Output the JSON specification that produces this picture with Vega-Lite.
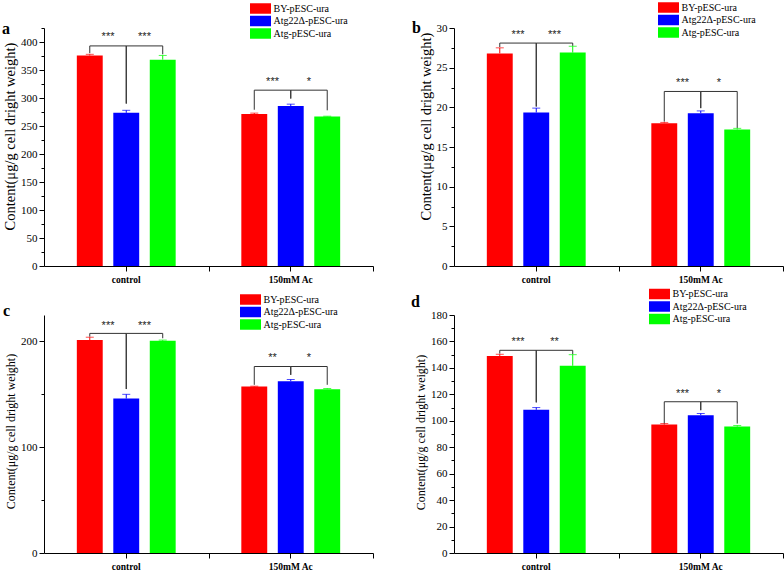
{
  "$schema": "https://vega.github.io/schema/vega-lite/v6.json",
  "background": "white",
  "padding": {"left": 2, "top": 2, "right": 0, "bottom": 0},
  "datasets": {
    "bars": [
      {"panel": "a", "cond": "control", "strain": "BY-pESC-ura", "value": 376, "upper": 378},
      {"panel": "a", "cond": "control", "strain": "Atg22Δ-pESC-ura", "value": 273.5, "upper": 278},
      {"panel": "a", "cond": "control", "strain": "Atg-pESC-ura", "value": 368.5, "upper": 376},
      {"panel": "a", "cond": "150mM Ac", "strain": "BY-pESC-ura", "value": 271.5, "upper": 273},
      {"panel": "a", "cond": "150mM Ac", "strain": "Atg22Δ-pESC-ura", "value": 285.5, "upper": 289},
      {"panel": "a", "cond": "150mM Ac", "strain": "Atg-pESC-ura", "value": 267, "upper": 267.5},
      {"panel": "b", "cond": "control", "strain": "BY-pESC-ura", "value": 26.8, "upper": 27.5},
      {"panel": "b", "cond": "control", "strain": "Atg22Δ-pESC-ura", "value": 19.35, "upper": 19.9},
      {"panel": "b", "cond": "control", "strain": "Atg-pESC-ura", "value": 26.9, "upper": 27.7},
      {"panel": "b", "cond": "150mM Ac", "strain": "BY-pESC-ura", "value": 18.0, "upper": 18.1},
      {"panel": "b", "cond": "150mM Ac", "strain": "Atg22Δ-pESC-ura", "value": 19.25, "upper": 19.55},
      {"panel": "b", "cond": "150mM Ac", "strain": "Atg-pESC-ura", "value": 17.2, "upper": 17.35},
      {"panel": "c", "cond": "control", "strain": "BY-pESC-ura", "value": 201.3, "upper": 204},
      {"panel": "c", "cond": "control", "strain": "Atg22Δ-pESC-ura", "value": 146, "upper": 150},
      {"panel": "c", "cond": "control", "strain": "Atg-pESC-ura", "value": 200.6, "upper": 201.3},
      {"panel": "c", "cond": "150mM Ac", "strain": "BY-pESC-ura", "value": 157.3, "upper": 157.7},
      {"panel": "c", "cond": "150mM Ac", "strain": "Atg22Δ-pESC-ura", "value": 162.4, "upper": 164},
      {"panel": "c", "cond": "150mM Ac", "strain": "Atg-pESC-ura", "value": 154.8, "upper": 155.5},
      {"panel": "d", "cond": "control", "strain": "BY-pESC-ura", "value": 149, "upper": 150.3},
      {"panel": "d", "cond": "control", "strain": "Atg22Δ-pESC-ura", "value": 108.3, "upper": 110},
      {"panel": "d", "cond": "control", "strain": "Atg-pESC-ura", "value": 141.6, "upper": 150},
      {"panel": "d", "cond": "150mM Ac", "strain": "BY-pESC-ura", "value": 97.1, "upper": 97.9},
      {"panel": "d", "cond": "150mM Ac", "strain": "Atg22Δ-pESC-ura", "value": 104.2, "upper": 105.5},
      {"panel": "d", "cond": "150mM Ac", "strain": "Atg-pESC-ura", "value": 95.6, "upper": 96.4}
    ],
    "brackets": [
      {"panel": "a", "cond": "control", "pair": "L", "seq": 1, "strain": "BY-pESC-ura", "y": 380},
      {"panel": "a", "cond": "control", "pair": "L", "seq": 2, "strain": "BY-pESC-ura", "y": 393},
      {"panel": "a", "cond": "control", "pair": "L", "seq": 3, "strain": "Atg22Δ-pESC-ura", "y": 393},
      {"panel": "a", "cond": "control", "pair": "L", "seq": 4, "strain": "Atg22Δ-pESC-ura", "y": 290},
      {"panel": "a", "cond": "control", "pair": "R", "seq": 1, "strain": "Atg22Δ-pESC-ura", "y": 290},
      {"panel": "a", "cond": "control", "pair": "R", "seq": 2, "strain": "Atg22Δ-pESC-ura", "y": 393},
      {"panel": "a", "cond": "control", "pair": "R", "seq": 3, "strain": "Atg-pESC-ura", "y": 393},
      {"panel": "a", "cond": "control", "pair": "R", "seq": 4, "strain": "Atg-pESC-ura", "y": 378},
      {"panel": "a", "cond": "150mM Ac", "pair": "L", "seq": 1, "strain": "BY-pESC-ura", "y": 279},
      {"panel": "a", "cond": "150mM Ac", "pair": "L", "seq": 2, "strain": "BY-pESC-ura", "y": 314},
      {"panel": "a", "cond": "150mM Ac", "pair": "L", "seq": 3, "strain": "Atg22Δ-pESC-ura", "y": 314},
      {"panel": "a", "cond": "150mM Ac", "pair": "L", "seq": 4, "strain": "Atg22Δ-pESC-ura", "y": 299},
      {"panel": "a", "cond": "150mM Ac", "pair": "R", "seq": 1, "strain": "Atg22Δ-pESC-ura", "y": 299},
      {"panel": "a", "cond": "150mM Ac", "pair": "R", "seq": 2, "strain": "Atg22Δ-pESC-ura", "y": 314},
      {"panel": "a", "cond": "150mM Ac", "pair": "R", "seq": 3, "strain": "Atg-pESC-ura", "y": 314},
      {"panel": "a", "cond": "150mM Ac", "pair": "R", "seq": 4, "strain": "Atg-pESC-ura", "y": 278},
      {"panel": "b", "cond": "control", "pair": "L", "seq": 1, "strain": "BY-pESC-ura", "y": 27.6},
      {"panel": "b", "cond": "control", "pair": "L", "seq": 2, "strain": "BY-pESC-ura", "y": 28.1},
      {"panel": "b", "cond": "control", "pair": "L", "seq": 3, "strain": "Atg22Δ-pESC-ura", "y": 28.1},
      {"panel": "b", "cond": "control", "pair": "L", "seq": 4, "strain": "Atg22Δ-pESC-ura", "y": 20.1},
      {"panel": "b", "cond": "control", "pair": "R", "seq": 1, "strain": "Atg22Δ-pESC-ura", "y": 20.1},
      {"panel": "b", "cond": "control", "pair": "R", "seq": 2, "strain": "Atg22Δ-pESC-ura", "y": 28.1},
      {"panel": "b", "cond": "control", "pair": "R", "seq": 3, "strain": "Atg-pESC-ura", "y": 28.1},
      {"panel": "b", "cond": "control", "pair": "R", "seq": 4, "strain": "Atg-pESC-ura", "y": 27.75},
      {"panel": "b", "cond": "150mM Ac", "pair": "L", "seq": 1, "strain": "BY-pESC-ura", "y": 18.2},
      {"panel": "b", "cond": "150mM Ac", "pair": "L", "seq": 2, "strain": "BY-pESC-ura", "y": 22.0},
      {"panel": "b", "cond": "150mM Ac", "pair": "L", "seq": 3, "strain": "Atg22Δ-pESC-ura", "y": 22.0},
      {"panel": "b", "cond": "150mM Ac", "pair": "L", "seq": 4, "strain": "Atg22Δ-pESC-ura", "y": 19.9},
      {"panel": "b", "cond": "150mM Ac", "pair": "R", "seq": 1, "strain": "Atg22Δ-pESC-ura", "y": 19.9},
      {"panel": "b", "cond": "150mM Ac", "pair": "R", "seq": 2, "strain": "Atg22Δ-pESC-ura", "y": 22.0},
      {"panel": "b", "cond": "150mM Ac", "pair": "R", "seq": 3, "strain": "Atg-pESC-ura", "y": 22.0},
      {"panel": "b", "cond": "150mM Ac", "pair": "R", "seq": 4, "strain": "Atg-pESC-ura", "y": 17.4},
      {"panel": "c", "cond": "control", "pair": "L", "seq": 1, "strain": "BY-pESC-ura", "y": 204.5},
      {"panel": "c", "cond": "control", "pair": "L", "seq": 2, "strain": "BY-pESC-ura", "y": 207.6},
      {"panel": "c", "cond": "control", "pair": "L", "seq": 3, "strain": "Atg22Δ-pESC-ura", "y": 207.6},
      {"panel": "c", "cond": "control", "pair": "L", "seq": 4, "strain": "Atg22Δ-pESC-ura", "y": 155},
      {"panel": "c", "cond": "control", "pair": "R", "seq": 1, "strain": "Atg22Δ-pESC-ura", "y": 155},
      {"panel": "c", "cond": "control", "pair": "R", "seq": 2, "strain": "Atg22Δ-pESC-ura", "y": 207.6},
      {"panel": "c", "cond": "control", "pair": "R", "seq": 3, "strain": "Atg-pESC-ura", "y": 207.6},
      {"panel": "c", "cond": "control", "pair": "R", "seq": 4, "strain": "Atg-pESC-ura", "y": 203},
      {"panel": "c", "cond": "150mM Ac", "pair": "L", "seq": 1, "strain": "BY-pESC-ura", "y": 159},
      {"panel": "c", "cond": "150mM Ac", "pair": "L", "seq": 2, "strain": "BY-pESC-ura", "y": 176.3},
      {"panel": "c", "cond": "150mM Ac", "pair": "L", "seq": 3, "strain": "Atg22Δ-pESC-ura", "y": 176.3},
      {"panel": "c", "cond": "150mM Ac", "pair": "L", "seq": 4, "strain": "Atg22Δ-pESC-ura", "y": 168.4},
      {"panel": "c", "cond": "150mM Ac", "pair": "R", "seq": 1, "strain": "Atg22Δ-pESC-ura", "y": 168.4},
      {"panel": "c", "cond": "150mM Ac", "pair": "R", "seq": 2, "strain": "Atg22Δ-pESC-ura", "y": 176.3},
      {"panel": "c", "cond": "150mM Ac", "pair": "R", "seq": 3, "strain": "Atg-pESC-ura", "y": 176.3},
      {"panel": "c", "cond": "150mM Ac", "pair": "R", "seq": 4, "strain": "Atg-pESC-ura", "y": 159},
      {"panel": "d", "cond": "control", "pair": "L", "seq": 1, "strain": "BY-pESC-ura", "y": 150.8},
      {"panel": "d", "cond": "control", "pair": "L", "seq": 2, "strain": "BY-pESC-ura", "y": 153.3},
      {"panel": "d", "cond": "control", "pair": "L", "seq": 3, "strain": "Atg22Δ-pESC-ura", "y": 153.3},
      {"panel": "d", "cond": "control", "pair": "L", "seq": 4, "strain": "Atg22Δ-pESC-ura", "y": 113.9},
      {"panel": "d", "cond": "control", "pair": "R", "seq": 1, "strain": "Atg22Δ-pESC-ura", "y": 113.9},
      {"panel": "d", "cond": "control", "pair": "R", "seq": 2, "strain": "Atg22Δ-pESC-ura", "y": 153.3},
      {"panel": "d", "cond": "control", "pair": "R", "seq": 3, "strain": "Atg-pESC-ura", "y": 153.3},
      {"panel": "d", "cond": "control", "pair": "R", "seq": 4, "strain": "Atg-pESC-ura", "y": 150.3},
      {"panel": "d", "cond": "150mM Ac", "pair": "L", "seq": 1, "strain": "BY-pESC-ura", "y": 97.9},
      {"panel": "d", "cond": "150mM Ac", "pair": "L", "seq": 2, "strain": "BY-pESC-ura", "y": 114.4},
      {"panel": "d", "cond": "150mM Ac", "pair": "L", "seq": 3, "strain": "Atg22Δ-pESC-ura", "y": 114.4},
      {"panel": "d", "cond": "150mM Ac", "pair": "L", "seq": 4, "strain": "Atg22Δ-pESC-ura", "y": 108},
      {"panel": "d", "cond": "150mM Ac", "pair": "R", "seq": 1, "strain": "Atg22Δ-pESC-ura", "y": 108},
      {"panel": "d", "cond": "150mM Ac", "pair": "R", "seq": 2, "strain": "Atg22Δ-pESC-ura", "y": 114.4},
      {"panel": "d", "cond": "150mM Ac", "pair": "R", "seq": 3, "strain": "Atg-pESC-ura", "y": 114.4},
      {"panel": "d", "cond": "150mM Ac", "pair": "R", "seq": 4, "strain": "Atg-pESC-ura", "y": 97.9}
    ],
    "stars": [
      {"panel": "a", "cond": "control", "strain": "BY-pESC-ura", "y": 412, "label": "***"},
      {"panel": "a", "cond": "control", "strain": "Atg22Δ-pESC-ura", "y": 412, "label": "***"},
      {"panel": "a", "cond": "150mM Ac", "strain": "BY-pESC-ura", "y": 331.5, "label": "***"},
      {"panel": "a", "cond": "150mM Ac", "strain": "Atg22Δ-pESC-ura", "y": 331.5, "label": "*"},
      {"panel": "b", "cond": "control", "strain": "BY-pESC-ura", "y": 29.4, "label": "***"},
      {"panel": "b", "cond": "control", "strain": "Atg22Δ-pESC-ura", "y": 29.4, "label": "***"},
      {"panel": "b", "cond": "150mM Ac", "strain": "BY-pESC-ura", "y": 23.3, "label": "***"},
      {"panel": "b", "cond": "150mM Ac", "strain": "Atg22Δ-pESC-ura", "y": 23.3, "label": "*"},
      {"panel": "c", "cond": "control", "strain": "BY-pESC-ura", "y": 216.7, "label": "***"},
      {"panel": "c", "cond": "control", "strain": "Atg22Δ-pESC-ura", "y": 216.7, "label": "***"},
      {"panel": "c", "cond": "150mM Ac", "strain": "BY-pESC-ura", "y": 186, "label": "**"},
      {"panel": "c", "cond": "150mM Ac", "strain": "Atg22Δ-pESC-ura", "y": 186, "label": "*"},
      {"panel": "d", "cond": "control", "strain": "BY-pESC-ura", "y": 161, "label": "***"},
      {"panel": "d", "cond": "control", "strain": "Atg22Δ-pESC-ura", "y": 161, "label": "**"},
      {"panel": "d", "cond": "150mM Ac", "strain": "BY-pESC-ura", "y": 121.5, "label": "***"},
      {"panel": "d", "cond": "150mM Ac", "strain": "Atg22Δ-pESC-ura", "y": 121.5, "label": "*"}
    ],
    "letters": [
      {"panel": "a", "cond": "control", "letter": "a", "y": 425},
      {"panel": "b", "cond": "control", "letter": "b", "y": 30},
      {"panel": "c", "cond": "control", "letter": "c", "y": 225},
      {"panel": "d", "cond": "control", "letter": "d", "y": 180}
    ]
  },
  "columns": 2,
  "spacing": {"row": 4, "column": 37},
  "resolve": {
    "scale": {"x": "independent", "y": "independent", "xOffset": "independent", "color": "independent"},
    "axis": {"x": "independent", "y": "independent"},
    "legend": {"color": "independent"}
  },
  "concat": [
    {
      "width": 329, "height": 238,
      "resolve": {"axis": {"x": "independent"}},
      "layer": [
        {
          "data": {"name": "bars"},
          "transform": [{"filter": "datum.panel === 'a'"}],
          "mark": {"type": "bar"},
          "encoding": {
            "x": {"field": "cond", "type": "nominal", "sort": ["control", "150mM Ac"], "scale": {"domain": ["control", "150mM Ac"], "paddingInner": 0, "paddingOuter": 0}},
            "xOffset": {"field": "strain", "type": "nominal", "scale": {"domain": ["BY-pESC-ura", "Atg22Δ-pESC-ura", "Atg-pESC-ura"], "paddingInner": 0.29, "paddingOuter": 0.9}},
            "y": {"field": "value", "type": "quantitative", "scale": {"domain": [0, 425], "nice": false},
              "axis": {"title": "Content(μg/g cell dright weight)", "titleY": 108, "labelOverlap": false, "values": [0, 25, 50, 75, 100, 125, 150, 175, 200, 225, 250, 275, 300, 325, 350, 375, 400, 425], "labelExpr": "datum.value % 50 === 0 ? datum.label : ''", "tickSize": {"condition": {"test": "datum.value % 50 === 0", "value": 5}, "value": 3}}},
            "color": {"field": "strain", "type": "nominal", "scale": {"domain": ["BY-pESC-ura", "Atg22Δ-pESC-ura", "Atg-pESC-ura"], "range": ["#ff0000", "#0000ff", "#00ff00"]}, "legend": {"legendX": 211, "legendY": -25}}
          }
        },
        {
          "data": {"name": "bars"},
          "transform": [{"filter": "datum.panel === 'a'"}],
          "mark": {"type": "rule", "strokeWidth": 1},
          "encoding": {"x": {"field": "cond", "type": "nominal", "axis": null}, "xOffset": {"field": "strain", "type": "nominal"}, "y": {"field": "value", "type": "quantitative",
              "axis": {"title": "Content(μg/g cell dright weight)", "titleY": 108, "labelOverlap": false, "values": [0, 25, 50, 75, 100, 125, 150, 175, 200, 225, 250, 275, 300, 325, 350, 375, 400, 425], "labelExpr": "datum.value % 50 === 0 ? datum.label : ''", "tickSize": {"condition": {"test": "datum.value % 50 === 0", "value": 5}, "value": 3}}}, "y2": {"field": "upper"}, "color": {"field": "strain", "type": "nominal", "legend": null}}
        },
        {
          "data": {"name": "bars"},
          "transform": [{"filter": "datum.panel === 'a'"}],
          "mark": {"type": "tick", "thickness": 1, "size": 8},
          "encoding": {"x": {"field": "cond", "type": "nominal", "axis": null}, "xOffset": {"field": "strain", "type": "nominal"}, "y": {"field": "upper", "type": "quantitative",
              "axis": {"title": "Content(μg/g cell dright weight)", "titleY": 108, "labelOverlap": false, "values": [0, 25, 50, 75, 100, 125, 150, 175, 200, 225, 250, 275, 300, 325, 350, 375, 400, 425], "labelExpr": "datum.value % 50 === 0 ? datum.label : ''", "tickSize": {"condition": {"test": "datum.value % 50 === 0", "value": 5}, "value": 3}}}, "color": {"field": "strain", "type": "nominal", "legend": null}}
        },
        {
          "data": {"name": "brackets"},
          "transform": [{"filter": "datum.panel === 'a'"}],
          "mark": {"type": "line", "color": "#333333", "strokeWidth": 1},
          "encoding": {"x": {"field": "cond", "type": "nominal", "axis": null}, "xOffset": {"field": "strain", "type": "nominal"}, "y": {"field": "y", "type": "quantitative",
              "axis": {"title": "Content(μg/g cell dright weight)", "titleY": 108, "labelOverlap": false, "values": [0, 25, 50, 75, 100, 125, 150, 175, 200, 225, 250, 275, 300, 325, 350, 375, 400, 425], "labelExpr": "datum.value % 50 === 0 ? datum.label : ''", "tickSize": {"condition": {"test": "datum.value % 50 === 0", "value": 5}, "value": 3}}}, "detail": [{"field": "cond"}, {"field": "pair"}], "order": {"field": "seq"}}
        },
        {
          "data": {"name": "stars"},
          "transform": [{"filter": "datum.panel === 'a'"}],
          "mark": {"type": "text", "dx": 18.25, "dy": 2, "baseline": "middle", "fontSize": 11, "font": "Liberation Sans", "color": "#222222"},
          "encoding": {"x": {"field": "cond", "type": "nominal", "axis": null}, "xOffset": {"field": "strain", "type": "nominal"}, "y": {"field": "y", "type": "quantitative",
              "axis": {"title": "Content(μg/g cell dright weight)", "titleY": 108, "labelOverlap": false, "values": [0, 25, 50, 75, 100, 125, 150, 175, 200, 225, 250, 275, 300, 325, 350, 375, 400, 425], "labelExpr": "datum.value % 50 === 0 ? datum.label : ''", "tickSize": {"condition": {"test": "datum.value % 50 === 0", "value": 5}, "value": 3}}}, "text": {"field": "label"}}
        },
        {
          "data": {"name": "letters"},
          "transform": [{"filter": "datum.panel === 'a'"}],
          "mark": {"type": "text", "align": "left", "baseline": "alphabetic", "dx": -42, "dy": 6, "fontSize": 16, "fontWeight": "bold", "font": "Liberation Serif", "color": "#000000"},
          "encoding": {"x": {"field": "cond", "type": "nominal", "bandPosition": 0, "axis": {"orient": "bottom", "tickBand": "extent", "tickExtra": false, "values": ["150mM Ac"], "labels": false, "domain": false, "title": null}}, "y": {"field": "y", "type": "quantitative",
              "axis": {"title": "Content(μg/g cell dright weight)", "titleY": 108, "labelOverlap": false, "values": [0, 25, 50, 75, 100, 125, 150, 175, 200, 225, 250, 275, 300, 325, 350, 375, 400, 425], "labelExpr": "datum.value % 50 === 0 ? datum.label : ''", "tickSize": {"condition": {"test": "datum.value % 50 === 0", "value": 5}, "value": 3}}}, "text": {"field": "letter"}}
        }
      ]
    },
    {
      "width": 329, "height": 238,
      "resolve": {"axis": {"x": "independent"}},
      "layer": [
        {
          "data": {"name": "bars"},
          "transform": [{"filter": "datum.panel === 'b'"}],
          "mark": {"type": "bar"},
          "encoding": {
            "x": {"field": "cond", "type": "nominal", "sort": ["control", "150mM Ac"], "scale": {"domain": ["control", "150mM Ac"], "paddingInner": 0, "paddingOuter": 0}},
            "xOffset": {"field": "strain", "type": "nominal", "scale": {"domain": ["BY-pESC-ura", "Atg22Δ-pESC-ura", "Atg-pESC-ura"], "paddingInner": 0.29, "paddingOuter": 0.9}},
            "y": {"field": "value", "type": "quantitative", "scale": {"domain": [0, 30], "nice": false},
              "axis": {"title": "Content(μg/g cell dright weight)", "titleY": 98, "labelOverlap": false, "values": [0, 2.5, 5, 7.5, 10, 12.5, 15, 17.5, 20, 22.5, 25, 27.5, 30], "labelExpr": "datum.value % 5 === 0 ? datum.label : ''", "tickSize": {"condition": {"test": "datum.value % 5 === 0", "value": 5}, "value": 3}}},
            "color": {"field": "strain", "type": "nominal", "scale": {"domain": ["BY-pESC-ura", "Atg22Δ-pESC-ura", "Atg-pESC-ura"], "range": ["#ff0000", "#0000ff", "#00ff00"]}, "legend": {"legendX": 209, "legendY": -26}}
          }
        },
        {
          "data": {"name": "bars"},
          "transform": [{"filter": "datum.panel === 'b'"}],
          "mark": {"type": "rule", "strokeWidth": 1},
          "encoding": {"x": {"field": "cond", "type": "nominal", "axis": null}, "xOffset": {"field": "strain", "type": "nominal"}, "y": {"field": "value", "type": "quantitative",
              "axis": {"title": "Content(μg/g cell dright weight)", "titleY": 98, "labelOverlap": false, "values": [0, 2.5, 5, 7.5, 10, 12.5, 15, 17.5, 20, 22.5, 25, 27.5, 30], "labelExpr": "datum.value % 5 === 0 ? datum.label : ''", "tickSize": {"condition": {"test": "datum.value % 5 === 0", "value": 5}, "value": 3}}}, "y2": {"field": "upper"}, "color": {"field": "strain", "type": "nominal", "legend": null}}
        },
        {
          "data": {"name": "bars"},
          "transform": [{"filter": "datum.panel === 'b'"}],
          "mark": {"type": "tick", "thickness": 1, "size": 8},
          "encoding": {"x": {"field": "cond", "type": "nominal", "axis": null}, "xOffset": {"field": "strain", "type": "nominal"}, "y": {"field": "upper", "type": "quantitative",
              "axis": {"title": "Content(μg/g cell dright weight)", "titleY": 98, "labelOverlap": false, "values": [0, 2.5, 5, 7.5, 10, 12.5, 15, 17.5, 20, 22.5, 25, 27.5, 30], "labelExpr": "datum.value % 5 === 0 ? datum.label : ''", "tickSize": {"condition": {"test": "datum.value % 5 === 0", "value": 5}, "value": 3}}}, "color": {"field": "strain", "type": "nominal", "legend": null}}
        },
        {
          "data": {"name": "brackets"},
          "transform": [{"filter": "datum.panel === 'b'"}],
          "mark": {"type": "line", "color": "#333333", "strokeWidth": 1},
          "encoding": {"x": {"field": "cond", "type": "nominal", "axis": null}, "xOffset": {"field": "strain", "type": "nominal"}, "y": {"field": "y", "type": "quantitative",
              "axis": {"title": "Content(μg/g cell dright weight)", "titleY": 98, "labelOverlap": false, "values": [0, 2.5, 5, 7.5, 10, 12.5, 15, 17.5, 20, 22.5, 25, 27.5, 30], "labelExpr": "datum.value % 5 === 0 ? datum.label : ''", "tickSize": {"condition": {"test": "datum.value % 5 === 0", "value": 5}, "value": 3}}}, "detail": [{"field": "cond"}, {"field": "pair"}], "order": {"field": "seq"}}
        },
        {
          "data": {"name": "stars"},
          "transform": [{"filter": "datum.panel === 'b'"}],
          "mark": {"type": "text", "dx": 18.25, "dy": 2, "baseline": "middle", "fontSize": 11, "font": "Liberation Sans", "color": "#222222"},
          "encoding": {"x": {"field": "cond", "type": "nominal", "axis": null}, "xOffset": {"field": "strain", "type": "nominal"}, "y": {"field": "y", "type": "quantitative",
              "axis": {"title": "Content(μg/g cell dright weight)", "titleY": 98, "labelOverlap": false, "values": [0, 2.5, 5, 7.5, 10, 12.5, 15, 17.5, 20, 22.5, 25, 27.5, 30], "labelExpr": "datum.value % 5 === 0 ? datum.label : ''", "tickSize": {"condition": {"test": "datum.value % 5 === 0", "value": 5}, "value": 3}}}, "text": {"field": "label"}}
        },
        {
          "data": {"name": "letters"},
          "transform": [{"filter": "datum.panel === 'b'"}],
          "mark": {"type": "text", "align": "left", "baseline": "alphabetic", "dx": -42, "dy": 5, "fontSize": 16, "fontWeight": "bold", "font": "Liberation Serif", "color": "#000000"},
          "encoding": {"x": {"field": "cond", "type": "nominal", "bandPosition": 0, "axis": {"orient": "bottom", "tickBand": "extent", "tickExtra": false, "values": ["150mM Ac"], "labels": false, "domain": false, "title": null}}, "y": {"field": "y", "type": "quantitative",
              "axis": {"title": "Content(μg/g cell dright weight)", "titleY": 98, "labelOverlap": false, "values": [0, 2.5, 5, 7.5, 10, 12.5, 15, 17.5, 20, 22.5, 25, 27.5, 30], "labelExpr": "datum.value % 5 === 0 ? datum.label : ''", "tickSize": {"condition": {"test": "datum.value % 5 === 0", "value": 5}, "value": 3}}}, "text": {"field": "letter"}}
        }
      ]
    },
    {
      "width": 329, "height": 238,
      "resolve": {"axis": {"x": "independent"}},
      "layer": [
        {
          "data": {"name": "bars"},
          "transform": [{"filter": "datum.panel === 'c'"}],
          "mark": {"type": "bar"},
          "encoding": {
            "x": {"field": "cond", "type": "nominal", "sort": ["control", "150mM Ac"], "scale": {"domain": ["control", "150mM Ac"], "paddingInner": 0, "paddingOuter": 0}},
            "xOffset": {"field": "strain", "type": "nominal", "scale": {"domain": ["BY-pESC-ura", "Atg22Δ-pESC-ura", "Atg-pESC-ura"], "paddingInner": 0.29, "paddingOuter": 0.9}},
            "y": {"field": "value", "type": "quantitative", "scale": {"domain": [0, 225], "nice": false},
              "axis": {"title": "Content(μg/g cell dright weight)", "titleFontSize": 12, "titleY": 116, "labelOverlap": false, "values": [0, 50, 100, 150, 200], "labelExpr": "datum.value % 100 === 0 ? datum.label : ''", "tickSize": {"condition": {"test": "datum.value % 100 === 0", "value": 5}, "value": 3}}},
            "color": {"field": "strain", "type": "nominal", "scale": {"domain": ["BY-pESC-ura", "Atg22Δ-pESC-ura", "Atg-pESC-ura"], "range": ["#ff0000", "#0000ff", "#00ff00"]}, "legend": {"legendX": 201, "legendY": -21}}
          }
        },
        {
          "data": {"name": "bars"},
          "transform": [{"filter": "datum.panel === 'c'"}],
          "mark": {"type": "rule", "strokeWidth": 1},
          "encoding": {"x": {"field": "cond", "type": "nominal", "axis": null}, "xOffset": {"field": "strain", "type": "nominal"}, "y": {"field": "value", "type": "quantitative",
              "axis": {"title": "Content(μg/g cell dright weight)", "titleFontSize": 12, "titleY": 116, "labelOverlap": false, "values": [0, 50, 100, 150, 200], "labelExpr": "datum.value % 100 === 0 ? datum.label : ''", "tickSize": {"condition": {"test": "datum.value % 100 === 0", "value": 5}, "value": 3}}}, "y2": {"field": "upper"}, "color": {"field": "strain", "type": "nominal", "legend": null}}
        },
        {
          "data": {"name": "bars"},
          "transform": [{"filter": "datum.panel === 'c'"}],
          "mark": {"type": "tick", "thickness": 1, "size": 8},
          "encoding": {"x": {"field": "cond", "type": "nominal", "axis": null}, "xOffset": {"field": "strain", "type": "nominal"}, "y": {"field": "upper", "type": "quantitative",
              "axis": {"title": "Content(μg/g cell dright weight)", "titleFontSize": 12, "titleY": 116, "labelOverlap": false, "values": [0, 50, 100, 150, 200], "labelExpr": "datum.value % 100 === 0 ? datum.label : ''", "tickSize": {"condition": {"test": "datum.value % 100 === 0", "value": 5}, "value": 3}}}, "color": {"field": "strain", "type": "nominal", "legend": null}}
        },
        {
          "data": {"name": "brackets"},
          "transform": [{"filter": "datum.panel === 'c'"}],
          "mark": {"type": "line", "color": "#333333", "strokeWidth": 1},
          "encoding": {"x": {"field": "cond", "type": "nominal", "axis": null}, "xOffset": {"field": "strain", "type": "nominal"}, "y": {"field": "y", "type": "quantitative",
              "axis": {"title": "Content(μg/g cell dright weight)", "titleFontSize": 12, "titleY": 116, "labelOverlap": false, "values": [0, 50, 100, 150, 200], "labelExpr": "datum.value % 100 === 0 ? datum.label : ''", "tickSize": {"condition": {"test": "datum.value % 100 === 0", "value": 5}, "value": 3}}}, "detail": [{"field": "cond"}, {"field": "pair"}], "order": {"field": "seq"}}
        },
        {
          "data": {"name": "stars"},
          "transform": [{"filter": "datum.panel === 'c'"}],
          "mark": {"type": "text", "dx": 18.25, "dy": 2, "baseline": "middle", "fontSize": 11, "font": "Liberation Sans", "color": "#222222"},
          "encoding": {"x": {"field": "cond", "type": "nominal", "axis": null}, "xOffset": {"field": "strain", "type": "nominal"}, "y": {"field": "y", "type": "quantitative",
              "axis": {"title": "Content(μg/g cell dright weight)", "titleFontSize": 12, "titleY": 116, "labelOverlap": false, "values": [0, 50, 100, 150, 200], "labelExpr": "datum.value % 100 === 0 ? datum.label : ''", "tickSize": {"condition": {"test": "datum.value % 100 === 0", "value": 5}, "value": 3}}}, "text": {"field": "label"}}
        },
        {
          "data": {"name": "letters"},
          "transform": [{"filter": "datum.panel === 'c'"}],
          "mark": {"type": "text", "align": "left", "baseline": "alphabetic", "dx": -41, "dy": 1, "fontSize": 16, "fontWeight": "bold", "font": "Liberation Serif", "color": "#000000"},
          "encoding": {"x": {"field": "cond", "type": "nominal", "bandPosition": 0, "axis": {"orient": "bottom", "tickBand": "extent", "tickExtra": false, "values": ["150mM Ac"], "labels": false, "domain": false, "title": null}}, "y": {"field": "y", "type": "quantitative",
              "axis": {"title": "Content(μg/g cell dright weight)", "titleFontSize": 12, "titleY": 116, "labelOverlap": false, "values": [0, 50, 100, 150, 200], "labelExpr": "datum.value % 100 === 0 ? datum.label : ''", "tickSize": {"condition": {"test": "datum.value % 100 === 0", "value": 5}, "value": 3}}}, "text": {"field": "letter"}}
        }
      ]
    },
    {
      "width": 329, "height": 238,
      "resolve": {"axis": {"x": "independent"}},
      "layer": [
        {
          "data": {"name": "bars"},
          "transform": [{"filter": "datum.panel === 'd'"}],
          "mark": {"type": "bar"},
          "encoding": {
            "x": {"field": "cond", "type": "nominal", "sort": ["control", "150mM Ac"], "scale": {"domain": ["control", "150mM Ac"], "paddingInner": 0, "paddingOuter": 0}},
            "xOffset": {"field": "strain", "type": "nominal", "scale": {"domain": ["BY-pESC-ura", "Atg22Δ-pESC-ura", "Atg-pESC-ura"], "paddingInner": 0.29, "paddingOuter": 0.9}},
            "y": {"field": "value", "type": "quantitative", "scale": {"domain": [0, 180], "nice": false},
              "axis": {"title": "Content(μg/g cell dright weight)", "titleFontSize": 12, "titleY": 117, "labelOverlap": false, "values": [0, 10, 20, 30, 40, 50, 60, 70, 80, 90, 100, 110, 120, 130, 140, 150, 160, 170, 180], "labelExpr": "datum.value % 20 === 0 ? datum.label : ''", "tickSize": {"condition": {"test": "datum.value % 20 === 0", "value": 5}, "value": 3}}},
            "color": {"field": "strain", "type": "nominal", "scale": {"domain": ["BY-pESC-ura", "Atg22Δ-pESC-ura", "Atg-pESC-ura"], "range": ["#ff0000", "#0000ff", "#00ff00"]}, "legend": {"legendX": 200, "legendY": -26.5}}
          }
        },
        {
          "data": {"name": "bars"},
          "transform": [{"filter": "datum.panel === 'd'"}],
          "mark": {"type": "rule", "strokeWidth": 1},
          "encoding": {"x": {"field": "cond", "type": "nominal", "axis": null}, "xOffset": {"field": "strain", "type": "nominal"}, "y": {"field": "value", "type": "quantitative",
              "axis": {"title": "Content(μg/g cell dright weight)", "titleFontSize": 12, "titleY": 117, "labelOverlap": false, "values": [0, 10, 20, 30, 40, 50, 60, 70, 80, 90, 100, 110, 120, 130, 140, 150, 160, 170, 180], "labelExpr": "datum.value % 20 === 0 ? datum.label : ''", "tickSize": {"condition": {"test": "datum.value % 20 === 0", "value": 5}, "value": 3}}}, "y2": {"field": "upper"}, "color": {"field": "strain", "type": "nominal", "legend": null}}
        },
        {
          "data": {"name": "bars"},
          "transform": [{"filter": "datum.panel === 'd'"}],
          "mark": {"type": "tick", "thickness": 1, "size": 8},
          "encoding": {"x": {"field": "cond", "type": "nominal", "axis": null}, "xOffset": {"field": "strain", "type": "nominal"}, "y": {"field": "upper", "type": "quantitative",
              "axis": {"title": "Content(μg/g cell dright weight)", "titleFontSize": 12, "titleY": 117, "labelOverlap": false, "values": [0, 10, 20, 30, 40, 50, 60, 70, 80, 90, 100, 110, 120, 130, 140, 150, 160, 170, 180], "labelExpr": "datum.value % 20 === 0 ? datum.label : ''", "tickSize": {"condition": {"test": "datum.value % 20 === 0", "value": 5}, "value": 3}}}, "color": {"field": "strain", "type": "nominal", "legend": null}}
        },
        {
          "data": {"name": "brackets"},
          "transform": [{"filter": "datum.panel === 'd'"}],
          "mark": {"type": "line", "color": "#333333", "strokeWidth": 1},
          "encoding": {"x": {"field": "cond", "type": "nominal", "axis": null}, "xOffset": {"field": "strain", "type": "nominal"}, "y": {"field": "y", "type": "quantitative",
              "axis": {"title": "Content(μg/g cell dright weight)", "titleFontSize": 12, "titleY": 117, "labelOverlap": false, "values": [0, 10, 20, 30, 40, 50, 60, 70, 80, 90, 100, 110, 120, 130, 140, 150, 160, 170, 180], "labelExpr": "datum.value % 20 === 0 ? datum.label : ''", "tickSize": {"condition": {"test": "datum.value % 20 === 0", "value": 5}, "value": 3}}}, "detail": [{"field": "cond"}, {"field": "pair"}], "order": {"field": "seq"}}
        },
        {
          "data": {"name": "stars"},
          "transform": [{"filter": "datum.panel === 'd'"}],
          "mark": {"type": "text", "dx": 18.25, "dy": 2, "baseline": "middle", "fontSize": 11, "font": "Liberation Sans", "color": "#222222"},
          "encoding": {"x": {"field": "cond", "type": "nominal", "axis": null}, "xOffset": {"field": "strain", "type": "nominal"}, "y": {"field": "y", "type": "quantitative",
              "axis": {"title": "Content(μg/g cell dright weight)", "titleFontSize": 12, "titleY": 117, "labelOverlap": false, "values": [0, 10, 20, 30, 40, 50, 60, 70, 80, 90, 100, 110, 120, 130, 140, 150, 160, 170, 180], "labelExpr": "datum.value % 20 === 0 ? datum.label : ''", "tickSize": {"condition": {"test": "datum.value % 20 === 0", "value": 5}, "value": 3}}}, "text": {"field": "label"}}
        },
        {
          "data": {"name": "letters"},
          "transform": [{"filter": "datum.panel === 'd'"}],
          "mark": {"type": "text", "align": "left", "baseline": "alphabetic", "dx": -43, "dy": -8, "fontSize": 16, "fontWeight": "bold", "font": "Liberation Serif", "color": "#000000"},
          "encoding": {"x": {"field": "cond", "type": "nominal", "bandPosition": 0, "axis": {"orient": "bottom", "tickBand": "extent", "tickExtra": false, "values": ["150mM Ac"], "labels": false, "domain": false, "title": null}}, "y": {"field": "y", "type": "quantitative",
              "axis": {"title": "Content(μg/g cell dright weight)", "titleFontSize": 12, "titleY": 117, "labelOverlap": false, "values": [0, 10, 20, 30, 40, 50, 60, 70, 80, 90, 100, 110, 120, 130, 140, 150, 160, 170, 180], "labelExpr": "datum.value % 20 === 0 ? datum.label : ''", "tickSize": {"condition": {"test": "datum.value % 20 === 0", "value": 5}, "value": 3}}}, "text": {"field": "letter"}}
        }
      ]
    }
  ],
  "config": {
    "view": {"stroke": null},
    "font": "Liberation Serif",
    "axis": {"grid": false, "domainColor": "#000000", "tickColor": "#000000", "labelColor": "#000000", "titleColor": "#000000", "labelFont": "Liberation Serif", "titleFont": "Liberation Serif", "labelFontSize": 11, "titleFontSize": 14.5, "titleFontWeight": "normal", "tickSize": 5, "labelPadding": 2, "titlePadding": 3},
    "axisX": {"labelFontWeight": "bold", "labelFontSize": 9.5, "labelAngle": 0, "title": null, "labelPadding": 3},
    "legend": {"orient": "none", "title": null, "padding": 0, "symbolType": "M-2,-1H2V1H-2Z", "symbolSize": 110, "symbolStrokeWidth": 0, "symbolOpacity": 1, "labelFont": "Liberation Serif", "labelFontSize": 10, "labelColor": "#000000", "labelOffset": 7.5, "rowPadding": 1.5}
  }
}
